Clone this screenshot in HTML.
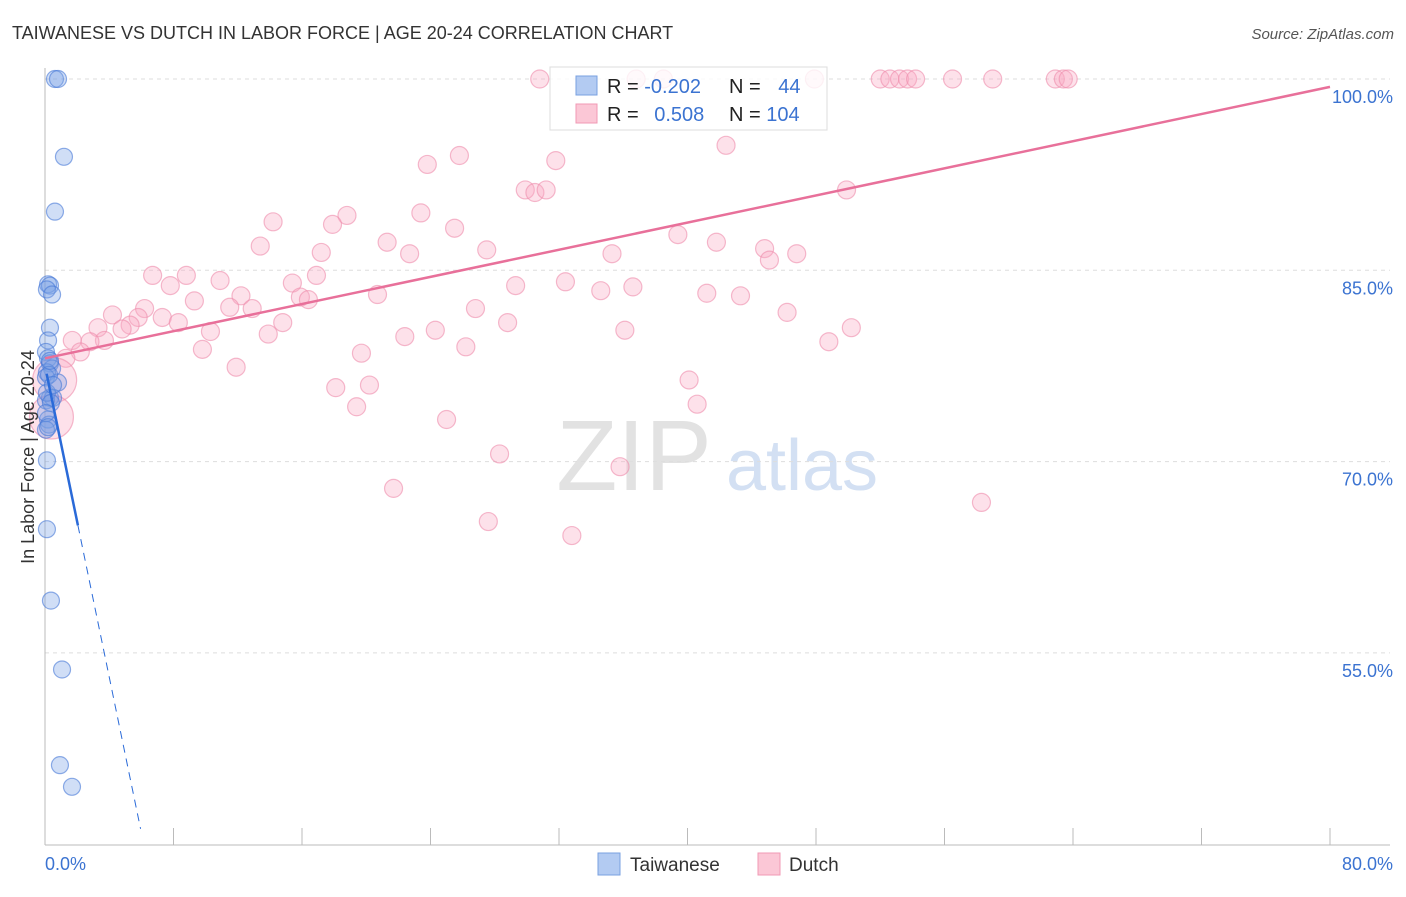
<!DOCTYPE html>
<html><head><meta charset="utf-8"><style>
body{margin:0;background:#fff;font-family:"Liberation Sans",sans-serif;}
svg text{font-family:"Liberation Sans",sans-serif;}
</style></head><body>
<svg id="chart" width="1406" height="892" xmlns="http://www.w3.org/2000/svg">
<text x="12" y="39" font-size="18" fill="#333">TAIWANESE VS DUTCH IN LABOR FORCE | AGE 20-24 CORRELATION CHART</text>
<text x="1394" y="39" font-size="15" fill="#555" font-style="italic" text-anchor="end">Source: ZipAtlas.com</text>
<text x="634" y="490" font-size="100" fill="#e2e2e2" font-family="Liberation Serif,serif" text-anchor="middle">ZIP</text>
<text x="802" y="490" font-size="72" fill="#d3e0f3" text-anchor="middle">atlas</text>
<g id="grid"></g><g id="pts"></g><g id="lines"></g>
<text transform="translate(34,457) rotate(-90)" font-size="18" fill="#333" text-anchor="middle">In Labor Force | Age 20-24</text>
<text x="45" y="870" font-size="18" fill="#3b73d1">0.0%</text>
<text x="1393" y="870" font-size="18" fill="#3b73d1" text-anchor="end">80.0%</text>
<g>
<rect x="550" y="67" width="277" height="63" fill="rgba(255,255,255,0.8)" stroke="#ddd"/>
<rect x="576" y="76" width="21" height="19" fill="#b3cbf2" stroke="#7aa0e0"/>
<rect x="576" y="104" width="21" height="19" fill="#fbc7d6" stroke="#f09ab4"/>
<text x="607" y="93" font-size="20" fill="#222">R = <tspan fill="#3b73d1">-0.202</tspan></text>
<text x="729" y="93" font-size="20" fill="#222">N = <tspan fill="#3b73d1" dx="12">44</tspan></text>
<text x="607" y="121" font-size="20" fill="#222">R = <tspan fill="#3b73d1" dx="10">0.508</tspan></text>
<text x="729" y="121" font-size="20" fill="#222">N = <tspan fill="#3b73d1">104</tspan></text>
</g>
<g><rect x="598" y="853" width="22" height="22" fill="#b3cbf2" stroke="#7aa0e0"/><text x="630" y="871" font-size="19" fill="#333">Taiwanese</text></g>
<g><rect x="758" y="853" width="22" height="22" fill="#fbc7d6" stroke="#f09ab4"/><text x="789" y="871" font-size="19" fill="#333">Dutch</text></g>
</svg>
<script>
const yTicks=[100,85,70,55];
const yTickLabels=["100.0%","85.0%","70.0%","55.0%"];
const xTicks=[0,8,16,24,32,40,48,56,64,72,80];
const taiX=[0.62,0.81,1.18,0.62,0.19,0.31,0.12,0.44,0.31,0.19,0.06,0.19,0.31,0.44,0.12,0.06,0.81,0.31,0.5,0.06,0.19,0.25,0.06,0.12,0.12,0.37,1.06,0.93,1.68,0.25,0.12,0.37,0.06,0.19,0.5,0.31];
const taiY=[100,100,93.9,89.6,83.9,83.8,83.5,83.1,80.5,79.5,78.6,78.1,77.7,77.3,77.0,76.6,76.2,75.0,75.0,74.8,73.3,72.9,72.5,70.1,64.7,59.1,53.7,46.2,44.5,76.8,75.4,74.6,73.8,72.7,76.0,77.9];
const dutX=[30.8,36.8,38.5,47.9,52.0,52.6,53.2,53.7,54.2,56.5,59.0,62.9,63.4,63.7,42.4,25.8,31.8,23.8,29.9,30.5,31.2,49.9,23.4,18.8,14.2,17.9,25.5,39.4,41.8,21.3,13.4,27.5,44.8,17.2,22.7,35.3,46.8,45.1,6.7,8.8,7.8,10.9,15.4,16.9,32.4,29.3,36.6,34.6,41.2,43.3,20.7,12.2,15.9,16.4,9.3,6.2,11.5,12.9,26.8,46.2,4.2,5.8,7.3,8.3,14.8,28.8,3.3,5.3,4.8,24.3,10.3,36.1,50.2,13.9,22.4,1.7,3.7,2.8,48.8,26.2,9.8,2.2,19.7,1.3,11.9,40.1,18.1,20.2,0.6,40.6,19.4,0.4,25.0,28.3,35.8,21.7,58.3,27.6,32.8];
const dutY=[100,100,100,100,100,100,100,100,100,100,100,100,100,100,94.8,94.0,93.6,93.3,91.3,91.1,91.3,91.3,89.5,89.3,88.8,88.6,88.3,87.8,87.2,87.2,86.9,86.6,86.7,86.4,86.3,86.3,86.3,85.8,84.6,84.6,83.8,84.2,84.0,84.6,84.1,83.8,83.7,83.4,83.2,83.0,83.1,83.0,82.9,82.7,82.6,82.0,82.1,82.0,82.0,81.7,81.5,81.3,81.3,80.9,80.9,80.9,80.5,80.7,80.4,80.3,80.2,80.3,80.5,80.0,79.8,79.5,79.5,79.4,79.4,79.0,78.8,78.6,78.5,78.1,77.4,76.4,75.8,76.0,76.4,74.5,74.3,73.5,73.3,70.6,69.6,67.9,66.8,65.3,64.2];
const dutR=dutX.map((x,i)=>(x<1?22:9));
const taiTrend=[77.5,-6.1]; const dutTrend=[78.1,0.266];
const X=v=>45+v*1285/80, Y=v=>79+(100-v)*191.3/15;
const NS="http://www.w3.org/2000/svg";
function mk(p,t,a){const e=document.createElementNS(NS,t);for(const k in a)e.setAttribute(k,a[k]);document.getElementById(p).appendChild(e);return e;}
yTicks.forEach((v,i)=>{
 const l=mk('grid','line',{x1:45,x2:1390,y1:Y(v),y2:Y(v),stroke:'#ddd','stroke-dasharray':'4,4'});
 
 
 const t=mk('grid','text',{x:1393,y:Y(v)+24,'font-size':18,fill:'#3b73d1','text-anchor':'end'});t.textContent=yTickLabels[i];
 
 
});
const ax=mk('grid','line',{x1:45,x2:1390,y1:845,y2:845,stroke:'#bbb'});


const ay=mk('grid','line',{x1:45,x2:45,y1:68,y2:845,stroke:'#bbb'});


xTicks.forEach(v=>{const t=mk('grid','line',{x1:X(v),x2:X(v),y1:828,y2:845,stroke:'#bbb'});
 
 });
dutX.forEach((x,i)=>{const c=mk('pts','circle',{cx:X(x),cy:Y(dutY[i]),r:dutR[i],fill:'rgba(250,170,195,0.35)',stroke:'rgba(238,140,172,0.6)','stroke-width':1.2});
 
 });
taiX.forEach((x,i)=>{const c=mk('pts','circle',{cx:X(x),cy:Y(taiY[i]),r:8.5,fill:'rgba(120,160,230,0.35)',stroke:'rgba(70,120,215,0.6)','stroke-width':1.2});
 
 });
const f=(t,x)=>t[0]+t[1]*x;
const pl=mk('lines','line',{x1:X(0),y1:Y(f(dutTrend,0)),x2:X(80),y2:Y(f(dutTrend,80)),stroke:'#e8709a','stroke-width':2.5});


const bl=mk('lines','line',{x1:X(0.1),y1:Y(f(taiTrend,0.1)),x2:X(2.05),y2:Y(f(taiTrend,2.05)),stroke:'#2a6ad8','stroke-width':2.5});


const bd=mk('lines','line',{x1:X(2.05),y1:Y(f(taiTrend,2.05)),x2:X(5.95),y2:Y(f(taiTrend,5.95)),stroke:'#2a6ad8','stroke-width':1,'stroke-dasharray':'8,6'});


</script>
</body></html>
